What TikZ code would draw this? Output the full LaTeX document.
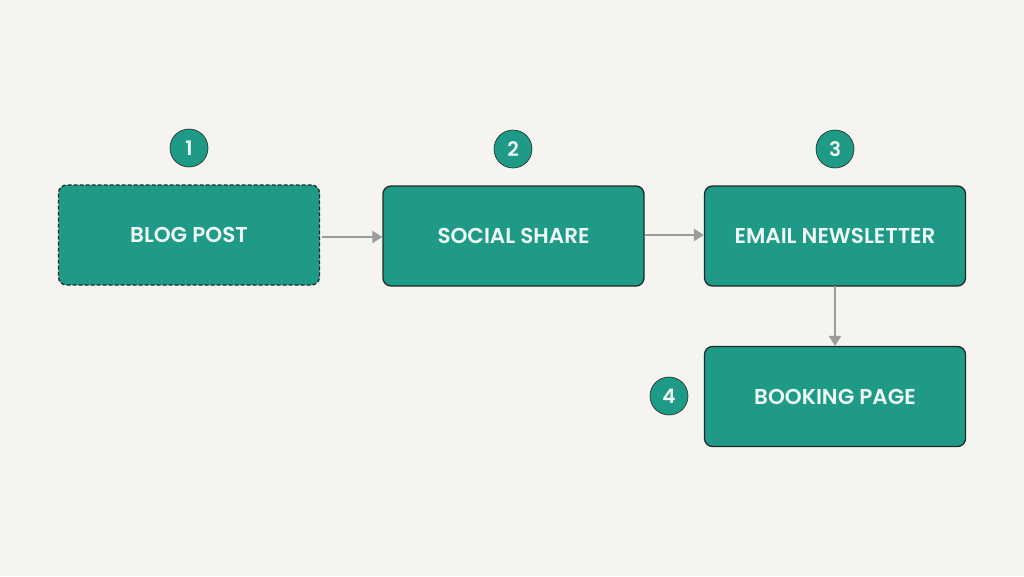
\documentclass[tikz,border=0pt]{standalone}
\usepackage{fontspec}
\setmainfont{Poppins}[UprightFont=* Medium, BoldFont=* SemiBold]
\usetikzlibrary{arrows.meta}
\definecolor{bg}{HTML}{F5F4F0}
\definecolor{teal}{HTML}{1E9A87}
\definecolor{edge}{HTML}{1C2B28}
\definecolor{arr}{HTML}{9C9C9A}
\definecolor{txt}{HTML}{EEF8F4}
\tikzset{
  stepbox/.style={draw=edge, line width=1.3pt, fill=teal, rounded corners=8pt,
    minimum width=261pt, minimum height=100pt, inner sep=0pt,
    text=txt, font=\fontsize{21.5}{24}\selectfont\bfseries},
  numdot/.style={circle, draw=edge, line width=0.6pt, fill=teal, minimum size=38pt,
    inner sep=0pt, text=txt, font=\fontsize{20}{22}\selectfont\bfseries},
  conn/.style={draw=arr, line width=2.6pt, -{Triangle[length=10pt,width=12pt]}}
}
\begin{document}
\begin{tikzpicture}[x=1pt,y=-1pt]
\fill[bg] (0,0) rectangle (1024,576);
\useasboundingbox (0,0) rectangle (1024,576);
\node[stepbox, dashed, dash pattern=on 4pt off 2pt] (blog) at (189,235) {BLOG POST};
\node[stepbox] (social) at (513.5,236) {SOCIAL SHARE};
\node[stepbox] (email) at (835,236) {EMAIL NEWSLETTER};
\node[stepbox] (booking) at (835,396.5) {BOOKING PAGE};
\node[numdot] (n1) at (189,148) {1};
\node[numdot] (n2) at (513,149) {2};
\node[numdot] (n3) at (835,149) {3};
\node[numdot] (n4) at (669,396) {4};
\draw[conn] ([xshift=2pt]blog.east |- 0,237) -- (social.west |- 0,237);
\draw[conn] (social.east |- 0,235) -- (email.west |- 0,235);
\draw[conn] ([yshift=1pt]email.south) -- (booking.north);
\end{tikzpicture}
\end{document}
